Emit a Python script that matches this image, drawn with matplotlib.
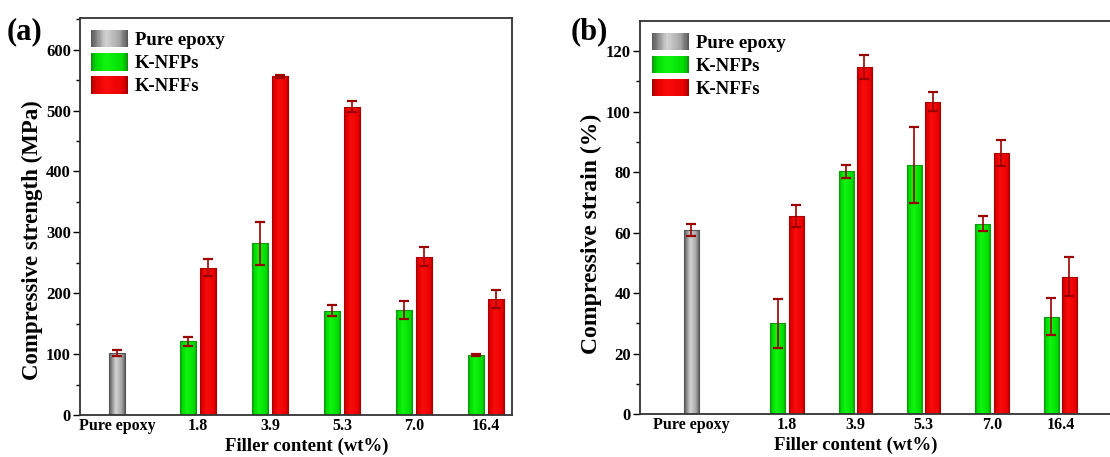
import numpy as np
import matplotlib

matplotlib.use("Agg")
import matplotlib.pyplot as plt
from matplotlib.colors import LinearSegmentedColormap
from matplotlib.legend_handler import HandlerBase
from matplotlib.patches import Patch, Rectangle

plt.rcParams["font.family"] = ["Liberation Serif", "DejaVu Serif"]
plt.rcParams["font.weight"] = "bold"
plt.rcParams["axes.labelweight"] = "bold"

categories = ["Pure epoxy", "1.8", "3.9", "5.3", "7.0", "16.4"]
series_names = ["Pure epoxy", "K-NFPs", "K-NFFs"]

# (a) compressive strength, MPa
epoxy_strength = 102
epoxy_strength_err = 5
nfp_strength = [121, 282, 171, 172, 99]
nfp_strength_err = [7, 35, 9, 15, 2]
nff_strength = [242, 556, 506, 260, 191]
nff_strength_err = [14, 3, 9, 16, 15]

# (b) compressive strain, %
epoxy_strain = 61
epoxy_strain_err = 2
nfp_strain = [30, 80.3, 82.4, 63, 32.3]
nfp_strain_err = [8, 2.2, 12.6, 2.5, 6]
nff_strain = [65.5, 114.6, 103.3, 86.4, 45.5]
nff_strain_err = [3.5, 4, 3, 4.3, 6.3]

# origin-style shaded fills: dark edge -> light -> dark edge
shades = {
    "Pure epoxy": LinearSegmentedColormap.from_list(
        "gray", [(0, "#555555"), (0.4, "#d4d4d4"), (0.75, "#a8a8a8"), (1, "#505050")]),
    "K-NFPs": LinearSegmentedColormap.from_list(
        "green", [(0, "#118811"), (0.12, "#00d800"), (0.4, "#10f510"), (0.85, "#00dd00"), (1, "#118811")]),
    "K-NFFs": LinearSegmentedColormap.from_list(
        "red", [(0, "#9a0000"), (0.12, "#e00000"), (0.4, "#fa0c0c"), (0.85, "#e80000"), (1, "#9a0000")]),
}
edge_colors = {"Pure epoxy": "#555555", "K-NFPs": "#119911", "K-NFFs": "#aa0000"}
err_color = "#9b0000"


class GradientHandler(HandlerBase):
    def __init__(self, cmap, strips=30):
        super().__init__()
        self.cmap = cmap
        self.strips = strips

    def create_artists(self, legend, orig_handle, xdescent, ydescent,
                       width, height, fontsize, trans):
        step = width / self.strips
        return [
            Rectangle((-xdescent + i * step, -ydescent), step * 1.05, height,
                      facecolor=self.cmap((i + 0.5) / self.strips),
                      edgecolor="none", transform=trans)
            for i in range(self.strips)
        ]


def shade(ax, bars, cmap):
    grad = np.linspace(0, 1, 80).reshape(1, -1)
    for patch in bars.patches:
        x0, y0 = patch.get_x(), patch.get_y()
        im = ax.imshow(grad, cmap=cmap, aspect="auto", interpolation="bilinear",
                       extent=(x0, x0 + patch.get_width(), y0, y0 + patch.get_height()),
                       zorder=1.5)
        im.set_clip_path(patch)


def draw_panel(ax, epoxy_x, epoxy, epoxy_err, nfp, nfp_err, nff, nff_err,
               width, offset, ylim, major, minor, xlim):
    groups = np.arange(1, len(nfp) + 1)
    specs = [
        ("Pure epoxy", [epoxy_x], [epoxy], [epoxy_err]),
        ("K-NFPs", groups - offset, nfp, nfp_err),
        ("K-NFFs", groups + offset, nff, nff_err),
    ]
    for name, xs, vals, errs in specs:
        bars = ax.bar(xs, vals, width=width, facecolor="none",
                      edgecolor=edge_colors[name], linewidth=0.8, zorder=2)
        shade(ax, bars, shades[name])
        ax.errorbar(xs, vals, yerr=errs, fmt="none", ecolor=err_color,
                    elinewidth=1.2, capsize=3.8, capthick=1.6, zorder=3)
    ax.set_xlim(*xlim)
    ax.set_ylim(*ylim)
    ax.set_xticks(np.concatenate([[epoxy_x], groups]))
    ax.set_xticklabels(categories)
    ax.set_yticks(np.arange(0, ylim[1], major))
    ax.set_yticks(np.arange(0, ylim[1], minor), minor=True)
    ax.tick_params(axis="x", length=0, pad=2, labelsize=11.5)
    ax.tick_params(axis="y", which="major", direction="out", length=5, width=1,
                   pad=1.5, labelsize=12)
    ax.tick_params(axis="y", which="minor", direction="out", length=3, width=1)
    for side in ("top", "right", "left", "bottom"):
        ax.spines[side].set_linewidth(1.3)
        ax.spines[side].set_color("#333333")

    handles = [Patch(label=n) for n in series_names]
    ax.legend(handles=handles,
              handler_map={h: GradientHandler(shades[n]) for h, n in zip(handles, series_names)},
              loc="upper left", frameon=False, fontsize=13.5, handlelength=2.0,
              handleheight=1.05, labelspacing=0.22, handletextpad=0.35,
              borderpad=0, borderaxespad=0, bbox_to_anchor=(0.025, 0.97))


fig = plt.figure(figsize=(11.1, 4.57), dpi=100)
ax_a = fig.add_axes([80 / 1110, 42 / 457, 432 / 1110, 397 / 457])
ax_b = fig.add_axes([640 / 1110, 42.7 / 457, 475 / 1110, 393.6 / 457])

draw_panel(ax_a, -0.125, epoxy_strength, epoxy_strength_err, nfp_strength,
           nfp_strength_err, nff_strength, nff_strength_err,
           width=0.232, offset=0.137, ylim=(0, 652), major=100, minor=50,
           xlim=(-0.639, 5.361))
draw_panel(ax_b, -0.4, epoxy_strain, epoxy_strain_err, nfp_strain,
           nfp_strain_err, nff_strain, nff_strain_err,
           width=0.22, offset=0.134, ylim=(0, 130), major=20, minor=10,
           xlim=(-1.149, 5.8))

ax_a.set_ylabel("Compressive strength (MPa)", fontsize=16.5)
ax_a.yaxis.set_label_coords(-0.086, 0.441)
ax_a.set_xlabel("Filler content (wt%)", fontsize=13.5)
ax_a.xaxis.set_label_coords(0.525, -0.056)

ax_b.set_ylabel("Compressive strain (%)", fontsize=17)
ax_b.yaxis.set_label_coords(-0.08, 0.459)
ax_b.set_xlabel("Filler content (wt%)", fontsize=13.5)
ax_b.xaxis.set_label_coords(0.455, -0.058)

fig.text(7 / 1110, 1 - 17 / 457, "(a)", fontsize=22, va="top", ha="left")
fig.text(571 / 1110, 1 - 17 / 457, "(b)", fontsize=22, va="top", ha="left")

fig.savefig("out.png", dpi=100)
